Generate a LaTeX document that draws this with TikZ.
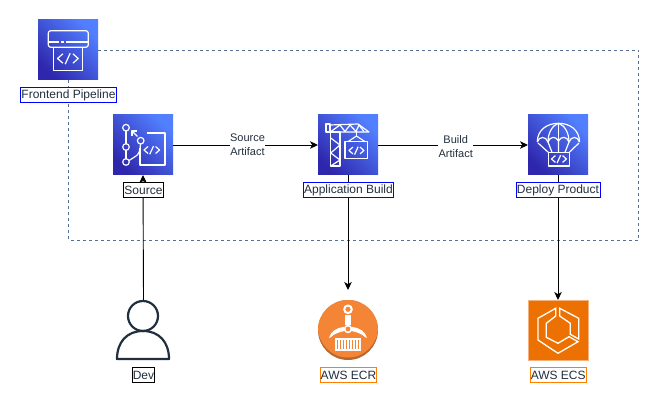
\documentclass[tikz,border=0pt]{standalone}
\usepackage{fontspec}
\setmainfont{Liberation Sans}
\usetikzlibrary{arrows.meta}
\definecolor{inkdark}{HTML}{232F3E}
\definecolor{dashc}{HTML}{56708F}
\definecolor{awsdark}{HTML}{2E27AD}
\definecolor{awslight}{HTML}{527FFF}
\definecolor{ecrorange}{HTML}{F58536}
\definecolor{ecrshade}{HTML}{B8662B}
\definecolor{ecsorange}{HTML}{ED7100}
\definecolor{ecsedge}{HTML}{F5B27F}
\definecolor{lblorange}{HTML}{FF8000}
\tikzset{
  icon/.style={minimum size=60pt,inner sep=0pt,outer sep=0pt,top color=awslight,bottom color=awsdark,shading angle=-45},
  caption/.style={fill=white,line width=0.9pt,minimum height=15pt,inner sep=0pt,outer sep=0pt,font=\fontsize{12}{12}\selectfont,text=inkdark},
  capblue/.style={caption,draw=blue},
  capblack/.style={caption,draw=black},
  caporange/.style={caption,draw=lblorange},
  conn/.style={draw=black,line width=0.9pt,-{Stealth[length=8pt,width=7.5pt,inset=2.2pt]}},
  glyph/.style={draw=white,line width=1.2pt,line join=round},
  edgetext/.style={fill=white,inner sep=0.5pt,align=center,font=\fontsize{11}{14}\selectfont,text=inkdark},
  boundary/.style={draw=dashc,line width=0.9pt,dash pattern=on 3pt off 3pt},
}
\newcommand{\codemark}[3]{%
  \begin{scope}[shift={(#1,#2)},scale=#3]
    \draw[glyph] (-4.6,-4.7) -- (-10,0) -- (-4.6,4.7);
    \draw[glyph] (5.4,-4.7) -- (10.7,0) -- (5.4,4.7);
    \draw[glyph] (2.7,-5.3) -- (-2.3,5.7);
  \end{scope}}
\begin{document}
\begin{tikzpicture}[x=1pt,y=-1pt]
\useasboundingbox (0,0) rectangle (659,403);
\fill[white] (0,0) rectangle (659,403);

% icons
\node[icon] (pipe) at (68,50) {};
\node[icon] (src) at (143,145) {};
\node[icon] (build) at (348,145) {};
\node[icon] (deploy) at (558,145) {};
\node[minimum width=55pt,minimum height=60pt,inner sep=0pt,outer sep=0pt] (dev) at (143.5,330) {};
\node[circle,minimum size=60pt,inner sep=0pt,outer sep=0pt,fill=ecrshade] (ecr) at (348,330) {};
\node[minimum size=60pt,inner sep=0pt,outer sep=0pt,fill=ecsorange,draw=ecsedge,line width=0.7pt] (ecs) at (558,330) {};

% dashed boundary
\coordinate (cornerNE) at (638.5,50);
\coordinate (cornerSE) at (638.5,240.5);
\coordinate (cornerSW) at (68.5,240.5);
\draw[boundary] (pipe.east) -- (cornerNE) -- (cornerSE) -- (cornerSW) -- (pipe.south -| cornerSW);

% connectors
\draw[conn] (src) -- (build) node[midway,edgetext,xshift=2pt] {Source\\Artifact};
\draw[conn] (build) -- (deploy) node[midway,edgetext,xshift=2.7pt,yshift=-2pt] {Build\\Artifact};
\draw[conn] (dev.north) -- (src.south);
\coordinate (ecrtip) at (348,290);
\draw[conn] (build.south) -- (ecrtip);
\draw[conn] (deploy.south) -- (ecs.north);

% captions
\node[capblue,minimum width=96pt] (pipecap) at (68.5,95) {Frontend Pipeline};
\node[capblack,minimum width=40pt] (srccap) at (143.5,190) {Source};
\node[capblue,minimum width=90pt] (buildcap) at (348.5,190) {Application Build};
\node[capblue,minimum width=84pt] (deploycap) at (558,190) {Deploy Product};
\node[capblack,minimum width=22pt] (devcap) at (143.5,375) {Dev};
\node[caporange,minimum width=56.5pt] (ecrcap) at (348.5,375) {AWS ECR};
\node[caporange,minimum width=56.5pt] (ecscap) at (558.2,375) {AWS ECS};

% pipeline glyph
\begin{scope}[shift={(pipe.north west)}]
  \draw[glyph,rounded corners=2.5pt] (10.3,10.7) rectangle (50.3,27.3);
  \draw[glyph] (10.3,22) -- (21,22) (23,22) -- (26,22) (28,22) -- (50.3,22);
  \draw[glyph] (15.3,27.3) -- (15.3,50.7) -- (44.7,50.7) -- (44.7,27.3);
  \codemark{29.5}{38.5}{1}
\end{scope}

% source glyph
\begin{scope}[shift={(src.north west)}]
  \draw[glyph] (13,12.7) circle (3.3) (13,32) circle (3.3) (13,47) circle (3.3) (27.7,25.7) circle (3.3);
  \draw[glyph] (13,16) -- (13,28.7) (13,35.3) -- (13,43.7);
  \draw[glyph] (16,45.5) .. controls (22,41) and (27,42) .. (27.5,29);
  \draw[glyph] (19,16) -- (24.5,21.5);
  \draw[glyph] (19,21) -- (19,16) -- (24,16);
  \draw[glyph] (34,18) -- (52,18) -- (52,50) -- (27,50) -- (27,33);
  \codemark{38.5}{35}{0.75}
\end{scope}

% build glyph
\begin{scope}[shift={(build.north west)}]
  \draw[glyph] (8,9) rectangle (12,17);
  \draw[glyph] (12,10) -- (40,9) -- (51,17) -- (8,17);
  \draw[glyph] (13,16.5) -- (22,10) -- (27,16.5) -- (32,10) -- (38,16.5) -- (41,10) -- (46,16.5);
  \draw[glyph] (12.7,17) rectangle (22,51);
  \draw[glyph] (12.7,23) -- (22,30) -- (12.7,38) -- (22,45) -- (12.7,51);
  \draw[glyph] (38.5,17) -- (38.5,21);
  \draw[glyph] (30,26.7) -- (38.5,21) -- (47,26.7);
  \draw[glyph] (27,26.7) rectangle (49.7,43.7);
  \codemark{38.2}{35.5}{0.72}
\end{scope}

% deploy glyph
\begin{scope}[shift={(deploy.north west)}]
  \draw[glyph] (9.3,27) .. controls (9.3,15) and (19,8.3) .. (30.5,8.3)
     .. controls (42,8.3) and (51.5,15) .. (51.5,27);
  \draw[glyph] (9.3,27) .. controls (11,21) and (18,21) .. (20,27)
     .. controls (22,21) and (28,21) .. (30.5,26)
     .. controls (33,21) and (39,21) .. (41,27)
     .. controls (43,21) and (50,21) .. (51.5,27);
  \draw[glyph] (20,27) .. controls (20,17) and (25,10) .. (30.5,8.3)
     .. controls (36,10) and (41,17) .. (41,27);
  \draw[glyph] (30.5,8.3) -- (30.5,26);
  \draw[glyph] (10,28) -- (20.3,37.3) (51,28) -- (41.3,37.3) (30.5,26) -- (30.5,37.3) (20,27) -- (24,37.3) (41,27) -- (37,37.3);
  \draw[glyph] (20.3,37.3) rectangle (41.3,51);
  \codemark{30.7}{44}{0.72}
\end{scope}

% dev figure
\begin{scope}[shift={(dev.north west)}]
  \draw[draw=inkdark,line width=2.2pt] (27,16) circle (15);
  \draw[draw=inkdark,line width=2.2pt,line join=round] (1,59) -- (53,59) .. controls (53,42) and (43,31) .. (27,31) .. controls (11,31) and (1,42) .. (1,59) -- cycle;
\end{scope}

% ecr glyph
\begin{scope}[shift={(ecr.center)},xshift=-30pt,yshift=30pt]
  \begin{scope}
    \clip (30,30) circle (30);
    \fill[ecrorange] (30,27.5) circle (30);
  \end{scope}
  \draw[white,line width=2pt] (30,9.3) circle (3.8);
  \fill[white] (27.2,15) rectangle (32.8,25);
  \draw[white,line width=1.6pt] (30,29) circle (3.4);
  \fill[white] (26,27) .. controls (18,28) and (13,31) .. (11,38) -- (13,37) .. controls (16,34) and (21,32) .. (26.5,31) -- cycle;
  \fill[white] (34,27) .. controls (42,28) and (47,31) .. (49,38) -- (47,37) .. controls (44,34) and (39,32) .. (33.5,31) -- cycle;
  \fill[white] (17.3,38.3) rectangle (43.3,51);
  \foreach \sx in {19.5,22.5,...,42} {\draw[ecrorange,line width=0.8pt] (\sx,40.5) -- (\sx,49);}
\end{scope}

% ecs glyph
\begin{scope}[shift={(ecs.north west)}]
  \draw[glyph,line width=1.3pt,line join=miter] (27.7,8.3) -- (10,18.3) -- (10,40) -- (30,53.3) -- (50,41.7) -- (41,36.7) -- (30,43.3) -- (18.3,37.3) -- (18.3,23.3) -- (27.7,16) -- cycle;
  \draw[glyph,line width=1.3pt,line join=miter] (31.7,8.3) -- (50.7,18.3) -- (50.7,39) -- (42.3,34.3) -- (42.3,23.3) -- (31.7,16) -- cycle;
\end{scope}
\end{tikzpicture}
\end{document}
